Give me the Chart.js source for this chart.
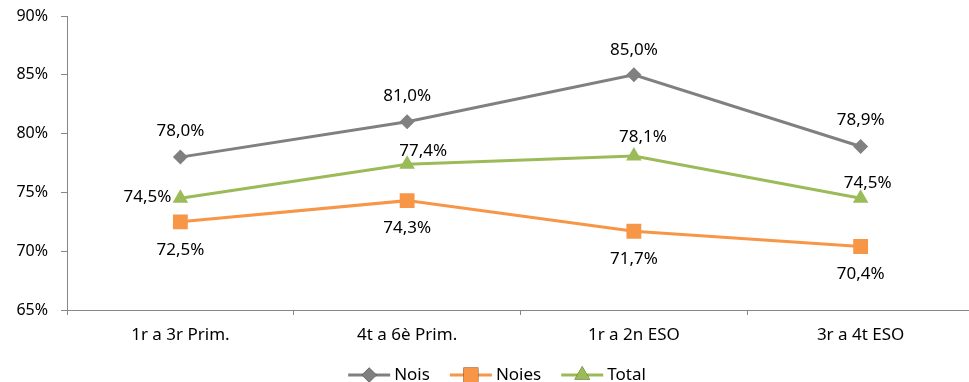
<!DOCTYPE html>
<html>
<head>
<meta charset="utf-8">
<script src="https://cdn.jsdelivr.net/npm/chart.js@4/dist/chart.umd.min.js"></script>
<style>
    html, body { margin: 0; padding: 0; background: #fff; overflow: hidden; }
    /* the original picture is a crop of a slightly wider chart */
    #wrap { width: 994px; height: 382px; }
</style>
</head>
<body>
<div id="wrap"><canvas id="chart"></canvas></div>
<script>
// Chart data
const categories = ['1r a 3r Prim.', '4t a 6è Prim.', '1r a 2n ESO', '3r a 4t ESO'];
const noisValues = [78.0, 81.0, 85.0, 78.9];
const noiesValues = [72.5, 74.3, 71.7, 70.4];
const totalValues = [74.5, 77.4, 78.1, 74.5];
const yTicks = [65, 70, 75, 80, 85, 90];

const FONT = '"Noto Sans", "Open Sans", sans-serif';
const AXIS_COLOR = '#868686';

// Label placement per series (style, not data)
const labelOffsets = {
    Nois: [[0, -26], [0, -26], [0, -25], [0, -26]],
    Noies: [[0, 28], [0, 28], [0, 28], [0, 28]],
    Total: [[-33, -1], [16, -13], [9, -19], [7, -15]]
};

function fmt(v) {
    return v.toFixed(1).replace('.', ',') + '%';
}

// Draws the value labels next to every point
const dataLabels = {
    id: 'dataLabels',
    afterDatasetsDraw(chart) {
        const ctx = chart.ctx;
        ctx.save();
        ctx.font = '17px ' + FONT;
        ctx.fillStyle = '#000';
        ctx.textAlign = 'center';
        ctx.textBaseline = 'middle';
        chart.data.datasets.forEach((ds, i) => {
            const meta = chart.getDatasetMeta(i);
            const offs = labelOffsets[ds.label];
            meta.data.forEach((pt, j) => {
                const o = offs[j];
                ctx.fillText(fmt(ds.data[j]), pt.x + o[0], pt.y + o[1]);
            });
        });
        ctx.restore();
    }
};

// Excel-like legend: short line with the marker in the middle
const lineLegend = {
    id: 'lineLegend',
    afterDraw(chart) {
        const ctx = chart.ctx;
        ctx.save();
        ctx.font = '17px ' + FONT;
        ctx.textBaseline = 'middle';
        const lineLen = 42, gap = 4, spacing = 20;
        const items = chart.data.datasets.map(ds => ({
            ds: ds,
            w: lineLen + gap + ctx.measureText(ds.label).width
        }));
        const total = items.reduce((s, it) => s + it.w, 0) + spacing * (items.length - 1);
        let x = (chart.width - total) / 2;
        const y = 375;
        items.forEach(it => {
            const ds = it.ds;
            ctx.strokeStyle = ds.borderColor;
            ctx.lineWidth = 3;
            ctx.beginPath();
            ctx.moveTo(x, y);
            ctx.lineTo(x + lineLen, y);
            ctx.stroke();
            Chart.helpers.drawPoint(ctx, {
                pointStyle: ds.pointStyle,
                radius: ds.pointRadius,
                rotation: 0,
                borderWidth: 0
            }, x + lineLen / 2, y);
            ctx.fillStyle = ds.pointBackgroundColor;
            ctx.fill();
            ctx.fillStyle = '#000';
            ctx.fillText(ds.label, x + lineLen + gap, y);
            x += it.w + spacing;
        });
        ctx.restore();
    }
};

function series(label, data, color, style, radius) {
    return {
        label: label,
        data: data,
        borderColor: color,
        backgroundColor: color,
        pointBackgroundColor: color,
        pointBorderColor: color,
        pointBorderWidth: 0,
        pointStyle: style,
        pointRadius: radius,
        borderWidth: 3,
        tension: 0
    };
}

new Chart(document.getElementById('chart'), {
    type: 'line',
    data: {
        labels: categories,
        datasets: [
            series('Nois', noisValues, '#808080', 'rectRot', 7.5),
            series('Noies', noiesValues, '#F79646', 'rect', 10.5),
            series('Total', totalValues, '#9BBB59', 'triangle', 9)
        ]
    },
    options: {
        responsive: true,
        maintainAspectRatio: false,
        animation: false,
        layout: { padding: { top: 16, right: 20, bottom: 32, left: 0 } },
        plugins: {
            legend: { display: false },
            tooltip: { enabled: false }
        },
        scales: {
            x: {
                offset: true,
                grid: {
                    offset: true,
                    drawOnChartArea: false,
                    drawTicks: true,
                    tickLength: 5,
                    color: AXIS_COLOR
                },
                border: { color: AXIS_COLOR, width: 1 },
                ticks: {
                    color: '#000',
                    padding: 10,
                    maxRotation: 0,
                    font: { family: FONT, size: 17 }
                },
                afterFit(scale) {
                    scale.height = 40;
                    scale.paddingLeft = 0;
                    scale.paddingRight = 0;
                }
            },
            y: {
                min: 65,
                max: 90,
                afterBuildTicks(scale) {
                    scale.ticks = yTicks.map(v => ({ value: v }));
                },
                grid: {
                    drawOnChartArea: false,
                    drawTicks: true,
                    tickLength: 6,
                    color: AXIS_COLOR
                },
                border: { color: AXIS_COLOR, width: 1 },
                ticks: {
                    color: '#000',
                    padding: 13,
                    font: { family: FONT, size: 16 },
                    callback: v => v + '%'
                },
                afterFit(scale) {
                    scale.width = 67;
                    scale.paddingTop = 0;
                    scale.paddingBottom = 0;
                }
            }
        }
    },
    plugins: [dataLabels, lineLegend]
});
</script>
</body>
</html>
